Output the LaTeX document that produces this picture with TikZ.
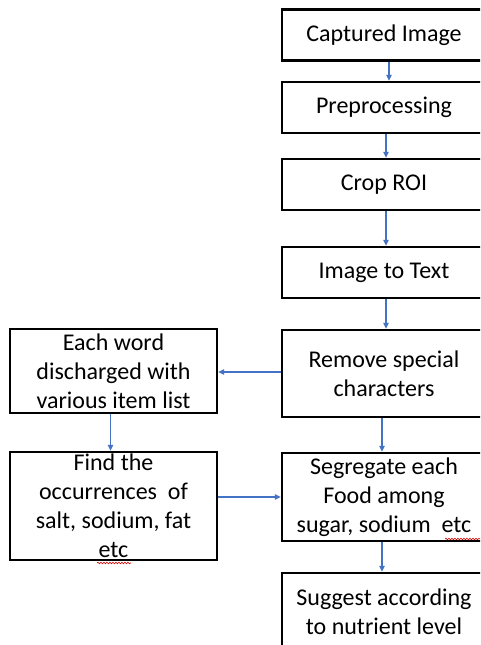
\documentclass[tikz,border=0pt]{standalone}
\usepackage{fontspec}
\setmainfont{Carlito}
\usetikzlibrary{arrows.meta,decorations.pathmorphing}
\definecolor{arrblue}{HTML}{4472C4}
\tikzset{
  box/.style={draw=black, line width=2.4pt, rectangle, inner sep=0pt, align=center,
    font=\fontsize{24}{29}\selectfont, text=black},
  arr/.style={draw=arrblue, line width=1.2pt, -{Triangle[length=6pt,width=5.5pt]}},
  squig/.style={draw=red!85!black, line width=0.6pt, decorate,
    decoration={snake, amplitude=0.8pt, segment length=3pt}}
}
\begin{document}
\begin{tikzpicture}[x=1pt,y=-1pt]
\useasboundingbox (0,0) rectangle (480,645);
\clip (0,0) rectangle (480,645);
\fill[white] (0,0) rectangle (480,645);
\node[box, minimum width=204pt, minimum height=51pt] (b1) at (384,35) {Captured Image};
\node[box, minimum width=204pt, minimum height=51pt] (b2) at (384,107.5) {Preprocessing};
\node[box, minimum width=204pt, minimum height=51pt] (b3) at (384,184.5) {Crop ROI};
\node[box, minimum width=204pt, minimum height=51pt] (b4) at (384,272.5) {Image to Text};
\node[box, minimum width=204pt, minimum height=87pt] (b5) at (384,373.5) {Remove special\\characters};
\node[box, minimum width=204pt, minimum height=88pt] (b6) at (384,497) {Segregate each\\Food among\\sugar, sodium\ \ etc};
\node[box, minimum width=204pt, minimum height=78pt] (b7) at (384,612) {Suggest according\\to nutrient level};
\node[box, minimum width=207pt, minimum height=84pt] (l1) at (113.5,371) {Each word\\discharged with\\various item list};
\node[box, minimum width=207pt, minimum height=108pt] (l2) at (113.5,506) {Find the\\occurrences\ \ of\\salt, sodium, fat\\etc};
\draw[arr] ([xshift=5pt]b1.south) -- ([xshift=5pt]b2.north);
\draw[arr] ([xshift=2pt]b2.south) -- ([xshift=2pt]b3.north);
\draw[arr] ([xshift=2pt]b3.south) -- ([xshift=2pt]b4.north);
\draw[arr] ([xshift=2pt]b4.south) -- ([xshift=2pt]b5.north);
\draw[arr] ([xshift=-2pt]b5.south) -- ([xshift=-2pt]b6.north);
\draw[arr] ([xshift=-2pt]b6.south) -- ([xshift=-2pt]b7.north);
\draw[arr] ([yshift=1.5pt]b5.west) -- ([yshift=1.5pt]b5.west -| l1.east);
\draw[arr] ([xshift=-3pt]l1.south) -- ([xshift=-3pt]l2.north);
\draw[arr] (b6.west -| l2.east) -- (b6.west);
\coordinate (s1a) at (97,563);
\coordinate (s1b) at (131,563);
\coordinate (s2a) at (445,539);
\coordinate (s2b) at (480,539);
\draw[squig] (s1a) -- (s1b);
\draw[squig] (s2a) -- (s2b);
\end{tikzpicture}
\end{document}
